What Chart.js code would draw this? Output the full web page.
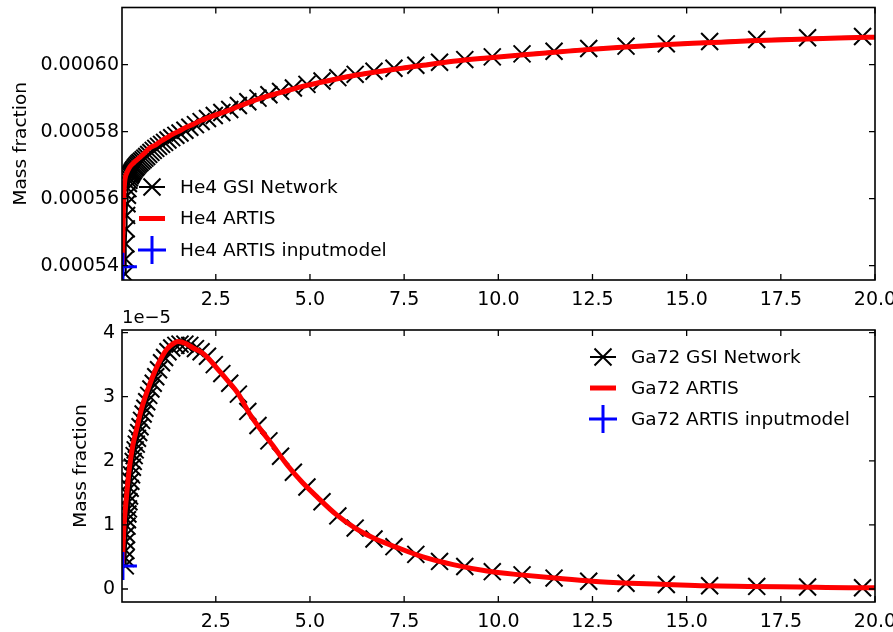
<!DOCTYPE html>
<html>
<head>
<meta charset="utf-8">
<script src="https://cdn.jsdelivr.net/npm/chart.js@4.4.1/dist/chart.umd.min.js"></script>
<style>
html, body { margin: 0; padding: 0; background: #fff; }
canvas { display: block; }
</style>
</head>
<body>
<canvas id="gornji" width="893" height="309"></canvas>
<canvas id="donji" width="893" height="323"></canvas>
<script>
// vremena GSI mreze (dani)
const gsiTimes = [0.097, 0.105, 0.113, 0.123, 0.132, 0.143, 0.154, 0.167, 0.180, 0.194,
    0.210, 0.227, 0.245, 0.264, 0.286, 0.308, 0.333, 0.360, 0.389, 0.420,
    0.453, 0.489, 0.529, 0.571, 0.617, 0.666, 0.719, 0.777, 0.839, 0.906,
    0.98, 1.06, 1.14, 1.23, 1.33, 1.44, 1.55, 1.68, 1.81, 1.96,
    2.11, 2.28, 2.46, 2.66, 2.87, 3.10, 3.35, 3.62, 3.91, 4.22,
    4.56, 4.92, 5.32, 5.74, 6.20, 6.70, 7.23, 7.81, 8.44, 9.11,
    9.84, 10.63, 11.48, 12.40, 13.39, 14.46, 15.61, 16.86, 18.21, 19.67];

const he4Gsi = [0.0005375, 0.000542, 0.0005465, 0.000551, 0.000555, 0.0005585, 0.000561, 0.000563, 0.0005645, 0.0005655,
    0.0005662, 0.0005668, 0.0005672, 0.0005676, 0.000568, 0.0005684, 0.0005688, 0.0005692, 0.0005696, 0.00057,
    0.0005704, 0.0005708, 0.0005712, 0.0005716, 0.0005721, 0.0005726, 0.0005732, 0.0005738, 0.0005744, 0.000575,
    0.0005756, 0.0005762, 0.0005768, 0.0005775, 0.0005782, 0.0005789, 0.0005796, 0.0005804, 0.0005813, 0.0005821,
    0.000583, 0.0005839, 0.0005848, 0.0005857, 0.0005866, 0.0005878, 0.0005889, 0.00059, 0.000591, 0.000592,
    0.000593, 0.0005941, 0.0005951, 0.0005961, 0.0005971, 0.000598, 0.0005989, 0.0005998, 0.0006007, 0.0006015,
    0.0006023, 0.0006032, 0.000604, 0.0006048, 0.0006055, 0.0006062, 0.0006069, 0.0006075, 0.000608, 0.0006084];

const ga72Gsi = [0.36e-5, 0.48e-5, 0.60e-5, 0.74e-5, 0.85e-5, 0.98e-5, 1.08e-5, 1.17e-5, 1.25e-5, 1.36e-5,
    1.45e-5, 1.57e-5, 1.68e-5, 1.78e-5, 1.90e-5, 1.99e-5, 2.08e-5, 2.17e-5, 2.26e-5, 2.35e-5,
    2.44e-5, 2.53e-5, 2.63e-5, 2.73e-5, 2.82e-5, 2.92e-5, 3.02e-5, 3.12e-5, 3.21e-5, 3.31e-5,
    3.42e-5, 3.53e-5, 3.61e-5, 3.70e-5, 3.76e-5, 3.80e-5, 3.82e-5, 3.82e-5, 3.80e-5, 3.75e-5,
    3.70e-5, 3.63e-5, 3.50e-5, 3.36e-5, 3.21e-5, 3.04e-5, 2.77e-5, 2.55e-5, 2.31e-5, 2.07e-5,
    1.82e-5, 1.59e-5, 1.36e-5, 1.14e-5, 0.95e-5, 0.78e-5, 0.66e-5, 0.54e-5, 0.43e-5, 0.35e-5,
    0.27e-5, 0.22e-5, 0.17e-5, 0.12e-5, 0.09e-5, 0.07e-5, 0.05e-5, 0.04e-5, 0.03e-5, 0.02e-5];

// ARTIS
const artisTimes = [0.02, 0.03, 0.04, 0.05, 0.06, 0.08, 0.1, 0.13, 0.17, 0.22,
    0.3, 0.4, 0.5, 0.6, 0.75, 0.9, 1.05, 1.2, 1.35, 1.5,
    1.7, 1.9, 2.1, 2.3, 2.55, 2.8, 3.1, 3.4, 3.7, 4.0,
    4.4, 4.8, 5.2, 5.7, 6.2, 6.7, 7.3, 8.0, 8.8, 9.7,
    10.6, 11.5, 12.5, 13.5, 14.5, 15.5, 16.7, 18.0, 19.3, 20.0];

const he4Artis = [0.0005395, 0.000546, 0.000553, 0.000558, 0.0005615, 0.000565, 0.0005665, 0.0005675, 0.0005685, 0.0005695,
    0.0005705, 0.0005715, 0.0005725, 0.0005735, 0.0005752, 0.000576, 0.0005772, 0.0005782, 0.0005792, 0.00058,
    0.0005812, 0.0005822, 0.0005833, 0.0005842, 0.0005852, 0.0005862, 0.0005875, 0.0005888, 0.00059, 0.000591,
    0.0005922, 0.0005935, 0.0005945, 0.0005957, 0.0005968, 0.0005977, 0.0005987, 0.0005998, 0.000601, 0.000602,
    0.0006029, 0.0006037, 0.0006046, 0.0006053, 0.000606, 0.0006065, 0.0006071, 0.0006076, 0.000608, 0.0006082];

const ga72Artis = [0.40e-5, 0.55e-5, 0.70e-5, 0.83e-5, 0.95e-5, 1.12e-5, 1.25e-5, 1.45e-5, 1.70e-5, 1.95e-5,
    2.25e-5, 2.50e-5, 2.75e-5, 2.95e-5, 3.20e-5, 3.42e-5, 3.60e-5, 3.74e-5, 3.82e-5, 3.86e-5,
    3.83e-5, 3.76e-5, 3.70e-5, 3.60e-5, 3.43e-5, 3.26e-5, 3.04e-5, 2.73e-5, 2.48e-5, 2.25e-5,
    1.93e-5, 1.66e-5, 1.43e-5, 1.16e-5, 0.95e-5, 0.79e-5, 0.65e-5, 0.50e-5, 0.38e-5, 0.28e-5,
    0.22e-5, 0.17e-5, 0.12e-5, 0.09e-5, 0.07e-5, 0.05e-5, 0.04e-5, 0.03e-5, 0.02e-5, 0.02e-5];

// ulazni model
const inputTime = [0.035];
const he4Input = [0.0005397];
const ga72Input = [0.36e-5];

const xTicks = [2.5, 5.0, 7.5, 10.0, 12.5, 15.0, 17.5, 20.0];
const yTicksTop = [0.00054, 0.00056, 0.00058, 0.00060];
const yTicksBottom = [0, 1e-5, 2e-5, 3e-5, 4e-5];

const legendaGore = ['He4 GSI Network', 'He4 ARTIS', 'He4 ARTIS inputmodel'];
const legendaDolje = ['Ga72 GSI Network', 'Ga72 ARTIS', 'Ga72 ARTIS inputmodel'];

Chart.defaults.font.family = '"DejaVu Sans", Verdana, sans-serif';
Chart.defaults.font.size = 19;
Chart.defaults.color = '#000';

function tocke(xs, ys) {
    return xs.map((t, i) => ({ x: t, y: ys[i] }));
}

// okvir i unutarnje crtice
const okvir = {
    id: 'okvir',
    afterDatasetsDraw(chart) {
        const { ctx, chartArea: a, scales: { x, y } } = chart;
        ctx.save();
        ctx.strokeStyle = '#000';
        ctx.lineWidth = 1.3;
        ctx.beginPath();
        x.ticks.forEach(t => {
            const px = x.getPixelForValue(t.value);
            ctx.moveTo(px, a.bottom); ctx.lineTo(px, a.bottom - 6);
            ctx.moveTo(px, a.top); ctx.lineTo(px, a.top + 6);
        });
        y.ticks.forEach(t => {
            const py = y.getPixelForValue(t.value);
            ctx.moveTo(a.left, py); ctx.lineTo(a.left + 6, py);
            ctx.moveTo(a.right, py); ctx.lineTo(a.right - 6, py);
        });
        ctx.stroke();
        ctx.lineWidth = 1.6;
        ctx.strokeRect(a.left, a.top, a.right - a.left, a.bottom - a.top);
        ctx.restore();
    }
};

function nacrtajRucku(ctx, vrsta, cx, cy) {
    ctx.save();
    ctx.lineCap = 'butt';
    if (vrsta === 0) {
        ctx.strokeStyle = '#000';
        ctx.lineWidth = 2;
        ctx.beginPath();
        ctx.moveTo(cx - 13, cy); ctx.lineTo(cx + 13, cy);
        ctx.stroke();
        ctx.lineWidth = 2;
        ctx.beginPath();
        ctx.moveTo(cx - 8.5, cy - 8.5); ctx.lineTo(cx + 8.5, cy + 8.5);
        ctx.moveTo(cx - 8.5, cy + 8.5); ctx.lineTo(cx + 8.5, cy - 8.5);
        ctx.stroke();
    } else if (vrsta === 1) {
        ctx.strokeStyle = '#ff0000';
        ctx.lineWidth = 5;
        ctx.beginPath();
        ctx.moveTo(cx - 13, cy); ctx.lineTo(cx + 13, cy);
        ctx.stroke();
    } else {
        ctx.strokeStyle = '#0000ff';
        ctx.lineWidth = 3;
        ctx.beginPath();
        ctx.moveTo(cx - 14, cy); ctx.lineTo(cx + 14, cy);
        ctx.moveTo(cx, cy - 14); ctx.lineTo(cx, cy + 14);
        ctx.stroke();
    }
    ctx.restore();
}

function legenda(natpisi, polozaj) {
    return {
        id: 'legenda',
        afterDraw(chart) {
            const { ctx, chartArea: a } = chart;
            const p = polozaj(a);
            ctx.save();
            ctx.font = '18.5px "DejaVu Sans", Verdana, sans-serif';
            ctx.fillStyle = '#000';
            ctx.textBaseline = 'middle';
            ctx.textAlign = 'left';
            natpisi.forEach((txt, i) => {
                const cy = p.y + i * p.razmak;
                nacrtajRucku(ctx, i, p.x, cy);
                ctx.fillText(txt, p.x + 28, cy + 1);
            });
            ctx.restore();
        }
    };
}

const pomak = {
    id: 'pomak',
    afterDraw(chart) {
        const { ctx, chartArea: a } = chart;
        ctx.save();
        ctx.font = '18px "DejaVu Sans", Verdana, sans-serif';
        ctx.fillStyle = '#000';
        ctx.textBaseline = 'alphabetic';
        ctx.fillText('1e\u22125', a.left, a.top - 7);
        ctx.restore();
    }
};

function skupovi(yGsi, yArtis, yInput) {
    return [
        {
            data: tocke(inputTime, yInput),
            pointStyle: 'cross', pointRadius: 14, pointHoverRadius: 14,
            pointBorderColor: '#0000ff', pointBorderWidth: 3,
            showLine: false, clip: 0, order: 1
        },
        {
            data: tocke(artisTimes, yArtis),
            showLine: true, borderColor: '#ff0000', borderWidth: 5,
            pointRadius: 0, pointHoverRadius: 0,
            cubicInterpolationMode: 'monotone', clip: 0, order: 2
        },
        {
            data: tocke(gsiTimes, yGsi),
            showLine: true, borderColor: '#000', borderWidth: 2,
            pointStyle: 'crossRot', pointRadius: 12, pointHoverRadius: 12,
            pointBorderColor: '#000', pointBorderWidth: 2,
            pointBackgroundColor: 'rgba(0,0,0,0)', clip: 0, order: 3
        }
    ];
}

function osX(visina) {
    return {
        type: 'linear', min: 0.01, max: 20,
        grid: { display: false, drawTicks: false },
        border: { display: false },
        ticks: { padding: 9, maxRotation: 0, callback: v => v.toFixed(1) },
        afterBuildTicks: s => { s.ticks = xTicks.map(v => ({ value: v })); },
        afterFit: s => { s.height = visina; s.paddingLeft = 0; s.paddingRight = 0; }
    };
}

function osY(min, max, kvacice, oznaka, razmakNaslova, razmakOznaka) {
    return {
        type: 'linear', min: min, max: max,
        grid: { display: false, drawTicks: false },
        border: { display: false },
        ticks: { padding: razmakOznaka, callback: oznaka },
        afterBuildTicks: s => { s.ticks = kvacice.map(v => ({ value: v })); },
        afterFit: s => { s.width = 122; s.paddingTop = 0; s.paddingBottom = 0; },
        title: {
            display: true, text: 'Mass fraction',
            font: { size: 18.5 },
            padding: { top: razmakNaslova, bottom: 0 }
        }
    };
}

new Chart(document.getElementById('gornji'), {
    type: 'scatter',
    data: { datasets: skupovi(he4Gsi, he4Artis, he4Input) },
    options: {
        responsive: false, animation: false, devicePixelRatio: 1,
        layout: { autoPadding: false, padding: { top: 7.5, right: 18, left: 0, bottom: 0 } },
        plugins: { legend: { display: false }, tooltip: { enabled: false } },
        scales: {
            x: osX(29),
            y: osY(0.00053573, 0.00061704, yTicksTop, v => v.toFixed(5), 10.5, 3)
        }
    },
    plugins: [okvir, legenda(legendaGore, a => ({ x: a.left + 30, y: a.bottom - 93, razmak: 31.5 }))]
});

new Chart(document.getElementById('donji'), {
    type: 'scatter',
    data: { datasets: skupovi(ga72Gsi, ga72Artis, ga72Input) },
    options: {
        responsive: false, animation: false, devicePixelRatio: 1,
        layout: { autoPadding: false, padding: { top: 21, right: 18, left: 0, bottom: 0 } },
        plugins: { legend: { display: false }, tooltip: { enabled: false } },
        scales: {
            x: osX(30),
            y: osY(-0.203e-5, 4.04e-5, yTicksBottom, v => String(Math.round(v / 1e-5)), 70, 7)
        }
    },
    plugins: [okvir, pomak, legenda(legendaDolje, a => ({ x: a.right - 272, y: a.top + 27, razmak: 31 }))]
});
</script>
</body>
</html>
